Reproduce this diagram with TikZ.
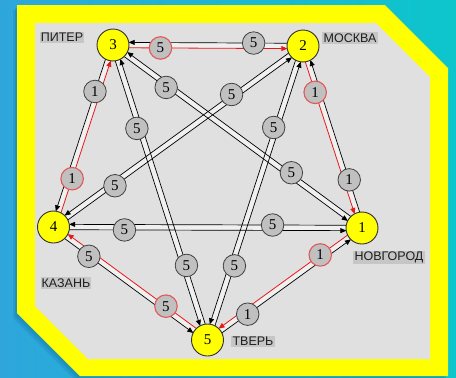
\documentclass[tikz,border=0pt]{standalone}
\usepackage{fontspec}
\setmainfont{Liberation Serif}
\newfontfamily\labfont{Liberation Sans}
\usetikzlibrary{calc,arrows.meta}
\definecolor{bgL}{HTML}{2EA6DC}
\definecolor{bgR}{HTML}{0CC6CC}
\definecolor{yel}{HTML}{FFFF00}
\definecolor{panel}{HTML}{E0E0E0}
\definecolor{vline}{HTML}{303030}
\definecolor{wfill}{HTML}{C0C0C0}
\definecolor{wline}{HTML}{404040}
\definecolor{wred}{HTML}{E05858}
\definecolor{redl}{HTML}{E81818}
\definecolor{bandc}{HTML}{F0F0F0}
\definecolor{labbg}{HTML}{C6C6C6}
\definecolor{labtx}{HTML}{1E1E1E}
\definecolor{shad}{HTML}{106E9A}
\pgfdeclarelayer{back}
\pgfdeclarelayer{edges}
\pgfsetlayers{back,edges,main}
\newcommand\dedge[4]{%
  \path ($(#2)!2.7pt!-90:(#3)$) coordinate (#1s) ($(#3)!2.7pt!90:(#2)$) coordinate (#1e);
  \draw[#4] (#1s) -- (#1e);}
\newcommand\wlab[4]{\node[#3] (w#1) at ($(#1s)!#2!(#1e)$) {#4};}
\begin{document}
\begin{tikzpicture}[x=1pt,y=-1pt,
  vert/.style={circle,draw=vline,fill=yel,line width=0.9pt,minimum size=32pt,inner sep=0pt,font=\fontsize{15}{15}\selectfont},
  wt/.style={circle,draw=wline,fill=wfill,line width=0.8pt,minimum size=22.5pt,inner sep=0pt,font=\fontsize{15}{15}\selectfont},
  wtred/.style={wt,draw=wred,line width=1.1pt},
  city/.style={fill=labbg,inner sep=1.2pt,font=\labfont\fontsize{12.5}{12.5}\selectfont,text=labtx},
  blk/.style={draw=black,line width=0.7pt,shorten <=15.6pt,shorten >=15.6pt,-{Triangle[length=6pt,width=5pt]}},
  rd/.style={draw=redl,line width=0.8pt,shorten <=15.6pt,shorten >=15.6pt,-{Triangle[length=6pt,width=5pt]}},
  band/.style={draw=bandc,line width=5.4pt}]
\useasboundingbox (0,0) rectangle (456,378);
% vertices
\node[vert] (n3) at (113,45) {3};
\node[vert] (n2) at (303,46) {2};
\node[vert] (n4) at (53.5,227) {4};
\node[vert] (n1) at (362,228) {1};
\node[vert] (n5) at (207.5,340) {5};
\begin{pgfonlayer}{back}
\shade[left color=bgL,right color=bgR] (0,0) rectangle (456,378);
\fill[shad,opacity=0.25] (15,8) -- (383,8) -- (446,71) -- (446,379) -- (78,379) -- (15,316) -- cycle;
\fill[shad,opacity=0.2] (13,10) -- (381,10) -- (444,73) -- (444,381) -- (76,381) -- (13,318) -- cycle;
\fill[yel] (17,5) -- (385,5) -- (448,68) -- (448,376) -- (80,376) -- (17,313) -- cycle;
\fill[panel] (35,23) -- (376,23) -- (430,77) -- (430,359) -- (88,359) -- (35,306) -- cycle;
\foreach \a/\b in {n3/n2,n3/n4,n2/n1,n1/n5,n5/n4,n3/n1,n4/n1,n2/n5,n3/n5,n2/n4}
  \draw[band] (\a) -- (\b);
\end{pgfonlayer}
\begin{pgfonlayer}{edges}
\dedge{ea}{n3}{n2}{rd}
\dedge{eb}{n2}{n3}{blk}
\dedge{ec}{n3}{n4}{blk}
\dedge{ed}{n4}{n3}{rd}
\dedge{ee}{n2}{n1}{rd}
\dedge{ef}{n1}{n2}{blk}
\dedge{eg}{n1}{n5}{rd}
\dedge{eh}{n5}{n1}{blk}
\dedge{ei}{n5}{n4}{rd}
\dedge{ej}{n4}{n5}{blk}
\dedge{ek}{n3}{n1}{blk}
\dedge{el}{n1}{n3}{blk}
\dedge{em}{n4}{n1}{blk}
\dedge{en}{n1}{n4}{blk}
\dedge{eo}{n2}{n5}{blk}
\dedge{ep}{n5}{n2}{blk}
\dedge{eq}{n3}{n5}{blk}
\dedge{er}{n5}{n3}{blk}
\dedge{es}{n2}{n4}{blk}
\dedge{et}{n4}{n2}{blk}
\end{pgfonlayer}
% weights
\wlab{ea}{0.25}{wtred}{5}
\wlab{eb}{0.26}{wt}{5}
\wlab{ec}{0.26}{wt}{1}
\wlab{ed}{0.27}{wtred}{1}
\wlab{ee}{0.25}{wtred}{1}
\wlab{ef}{0.26}{wt}{1}
\wlab{eg}{0.26}{wtred}{1}
\wlab{eh}{0.25}{wt}{1}
\wlab{ei}{0.28}{wtred}{5}
\wlab{ej}{0.24}{wt}{5}
\wlab{ek}{0.22}{wt}{5}
\wlab{el}{0.29}{wt}{5}
\wlab{em}{0.23}{wt}{5}
\wlab{en}{0.29}{wt}{5}
\wlab{eo}{0.28}{wt}{5}
\wlab{ep}{0.255}{wt}{5}
\wlab{eq}{0.28}{wt}{5}
\wlab{er}{0.25}{wt}{5}
\wlab{es}{0.28}{wt}{5}
\wlab{et}{0.24}{wt}{5}
% city labels
\node[city] (lp) at (62,37) {ПИТЕР};
\node[city] (lm) at (350,38) {МОСКВА};
\node[city] (ln) at (389,257.5) {НОВГОРОД};
\node[city] (lk) at (66,283) {КАЗАНЬ};
\node[city] (lt) at (253,341) {ТВЕРЬ};
\end{tikzpicture}
\end{document}
